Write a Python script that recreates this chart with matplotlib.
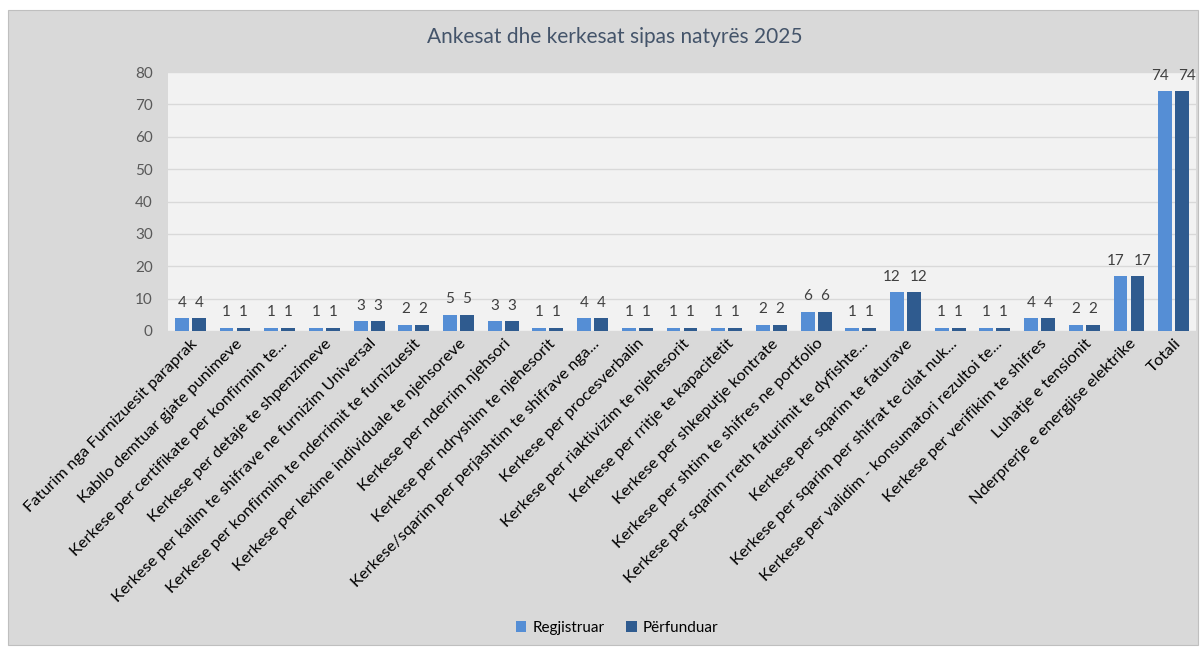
import numpy as np
import matplotlib
matplotlib.use('Agg')
import matplotlib.pyplot as plt
from matplotlib.patches import Rectangle

plt.rcParams['font.family'] = ['Lato', 'DejaVu Sans']

categories = [
    'Faturim nga Furnizuesit paraprak',
    'Kabllo demtuar gjate punimeve',
    'Kerkese per certifikate per konfirmim te...',
    'Kerkese per detaje te shpenzimeve',
    'Kerkese per kalim te shifrave ne furnizim Universal',
    'Kerkese per konfirmim te nderrimit te furnizuesit',
    'Kerkese per lexime individuale te njehsoreve',
    'Kerkese per nderrim njehsori',
    'Kerkese per ndryshim te njehesorit',
    'Kerkese/sqarim per perjashtim te shifrave nga...',
    'Kerkese per procesverbalin',
    'Kerkese per riaktivizim te njehesorit',
    'Kerkese per rritje te kapacitetit',
    'Kerkese per shkeputje kontrate',
    'Kerkese per shtim te shifres ne portfolio',
    'Kerkese per sqarim rreth faturimit te dyfishte...',
    'Kerkese per sqarim te faturave',
    'Kerkese per sqarim per shifrat te cilat nuk...',
    'Kerkese per validim - konsumatori rezultoi te...',
    'Kerkese per verifikim te shifres',
    'Luhatje e tensionit',
    'Nderprerje e energjise elektrike',
    'Totali',
]
regjistruar = [4, 1, 1, 1, 3, 2, 5, 3, 1, 4, 1, 1, 1, 2, 6, 1, 12, 1, 1, 4, 2, 17, 74]
perfunduar = [4, 1, 1, 1, 3, 2, 5, 3, 1, 4, 1, 1, 1, 2, 6, 1, 12, 1, 1, 4, 2, 17, 74]

c1 = '#558ed5'
c2 = '#2f5b8f'

fig = plt.figure(figsize=(12.04, 6.47), dpi=100, facecolor='white')
fig.patches.append(Rectangle((8 / 1204, 2 / 647), 1190 / 1204, 635 / 647,
                             transform=fig.transFigure, facecolor='#d9d9d9',
                             edgecolor='#bfbfbf', linewidth=0.8, zorder=-5))

ax = fig.add_axes([168 / 1204, 1 - 331 / 647, 1028 / 1204, 259 / 647])
ax.set_facecolor('#f2f2f2')

x = np.arange(len(categories))
w = 0.31
b1 = ax.bar(x - 0.19, regjistruar, w, color=c1, label='Regjistruar', zorder=3)
b2 = ax.bar(x + 0.19, perfunduar, w, color=c2, label='Përfunduar', zorder=3)

# two-digit labels get nudged apart so they don't run together
for bars, side in ((b1, -1), (b2, 1)):
    for rect in bars:
        h = rect.get_height()
        txt = str(int(h))
        shift = side * 3.5 * (len(txt) - 1)
        ax.annotate(txt, (rect.get_x() + rect.get_width() / 2, h),
                    xytext=(shift, 6), textcoords='offset points',
                    ha='center', va='bottom', fontsize=11, color='#404040')

ax.set_xlim(-0.5, len(categories) - 0.5)
ax.set_ylim(0, 80)
ax.set_yticks(range(0, 81, 10))
ax.yaxis.grid(True, color='#d9d9d9', linewidth=1, zorder=0)
ax.tick_params(axis='y', length=0, labelsize=11, labelcolor='#595959', pad=11)
ax.tick_params(axis='x', length=0, pad=4)
ax.set_xticks(x)
ax.set_xticklabels(categories, rotation=45, ha='right', rotation_mode='anchor',
                   fontsize=11.8, color='#000000')
for s in ax.spines.values():
    s.set_visible(False)

fig.text(615 / 1204, 1 - 37 / 647, 'Ankesat dhe kerkesat sipas natyrës 2025',
         ha='center', va='center', fontsize=15, color='#44546a')

fig.legend(loc='center', bbox_to_anchor=(617 / 1204, 1 - 628 / 647), ncol=2,
           frameon=False, fontsize=11, handlelength=0.7, handleheight=0.7,
           columnspacing=1.4, handletextpad=0.4)

fig.savefig('out.png', dpi=100, facecolor=fig.get_facecolor())
